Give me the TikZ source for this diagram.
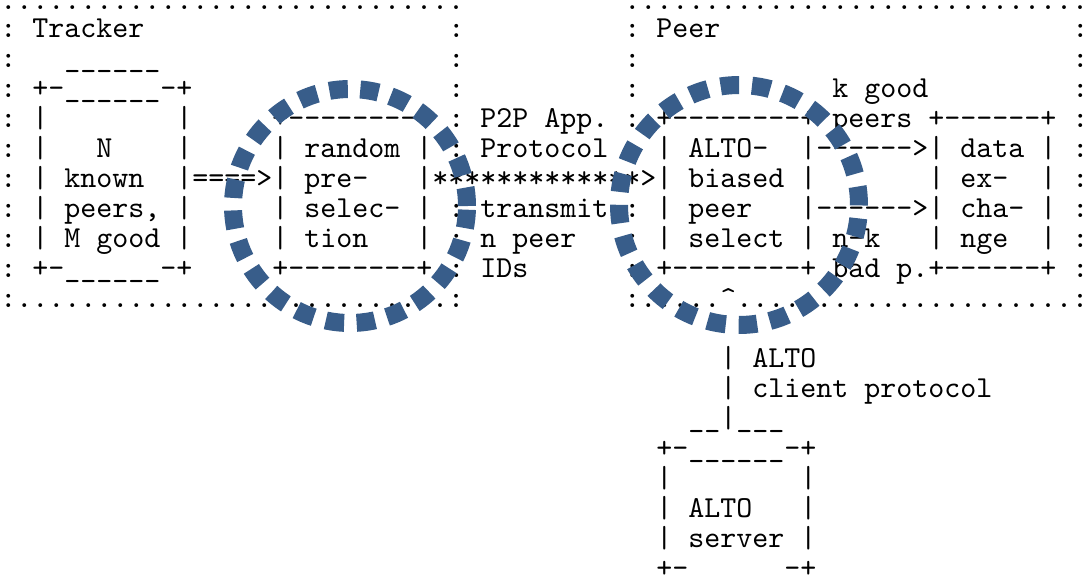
\documentclass[tikz,border=0pt]{standalone}
\usepackage{fontspec}
\setmonofont{lmmono10-regular.otf}
\definecolor{ringblue}{HTML}{385D8A}
\tikzset{asc/.style={anchor=base west,inner sep=0pt,font=\ttfamily\fontsize{17.34}{20}\selectfont},
ring/.style={draw=ringblue,line width=0.36cm}}

\begin{document}
\begin{tikzpicture}[x=0.02cm,y=-0.02cm]
\useasboundingbox (0,0) rectangle (1089,583);

% frame tops
\foreach \c/\t[count=\x] in {0/{.............................},39/{.............................}}
{\node[asc,text height=2pt](a\x)at(\c*16,9){\t};}
\foreach \c/\t[count=\x] in {0/:,2/Tracker,28/:,39/:,41/Peer,67/:}
{\node[asc](b\x)at(\c*16,37){\t};}
\foreach \c/\t[count=\x] in {0/:,4/{\_\_\_\_\_\_},28/:,39/:,67/:}
{\node[asc](c\x)at(\c*16,67){\t};}
\foreach \c/\t[count=\x] in {0/:,2/{+-\_\_\_\_\_\_-+},28/:,39/:,52/{k good},67/:}
{\node[asc](d\x)at(\c*16,97){\t};}

% boxes
\foreach \c/\t[count=\x] in {0/:,2/|,11/|,17/{+--------+},28/:,30/{P2P App.},39/:,41/{+--------+},52/peers,58/{+------+},67/:}
{\node[asc](e\x)at(\c*16,127){\t};}
\foreach \c/\t[count=\x] in {0/:,2/|,6/N,11/|,17/|,19/random,26/|,28/:,30/Protocol,39/:,41/|,43/ALTO-,50/{|------>|},60/data,65/|,67/:}
{\node[asc](f\x)at(\c*16,157){\t};}
\foreach \c/\t[count=\x] in {0/:,2/|,4/known,11/{|====>|},19/pre-,26/{|*************>|},43/biased,50/|,58/|,60/ex-,65/|,67/:}
{\node[asc](g\x)at(\c*16,187){\t};}
\foreach \c/\t[count=\x] in {0/:,2/|,4/{peers,},11/|,17/|,19/selec-,26/|,28/:,30/transmit,39/:,41/|,43/peer,50/{|------>|},60/cha-,65/|,67/:}
{\node[asc](h\x)at(\c*16,217){\t};}
\foreach \c/\t[count=\x] in {0/:,2/|,4/{M good},11/|,17/|,19/tion,26/|,28/:,30/{n peer},39/:,41/|,43/select,50/|,52/n-k,58/|,60/nge,65/|,67/:}
{\node[asc](i\x)at(\c*16,247){\t};}
\foreach \c/\t[count=\x] in {0/:,2/{+-\_\_\_\_\_\_-+},17/{+--------+},28/:,30/IDs,39/:,41/{+--------+},52/{bad p.+------+},67/:}
{\node[asc](j\x)at(\c*16,277){\t};}
\foreach \c/\t[count=\x] in {0/{:...........................:},39/{:.....\textasciicircum.....................:}}
{\node[asc](k\x)at(\c*16,307){\t};}

% ALTO server
\foreach \c/\t[count=\x] in {45/|,47/ALTO}
{\node[asc](l\x)at(\c*16,367){\t};}
\foreach \c/\t[count=\x] in {45/|,47/{client protocol}}
{\node[asc](m\x)at(\c*16,397){\t};}
\node[asc](n1)at(43*16,427){\_\_|\_\_\_};
\node[asc](o1)at(41*16,457){+-\_\_\_\_\_\_-+};
\foreach \c/\t[count=\x] in {41/|,50/|}
{\node[asc](p\x)at(\c*16,487){\t};}
\foreach \c/\t[count=\x] in {41/|,43/ALTO,50/|}
{\node[asc](q\x)at(\c*16,517){\t};}
\foreach \c/\t[count=\x] in {41/|,43/server,50/|}
{\node[asc](r\x)at(\c*16,547){\t};}
\foreach \c/\t[count=\x] in {41/+-,49/-+}
{\node[asc](s\x)at(\c*16,577){\t};}

% dotted rings
\draw[ring,dash pattern=on .37cm off .25cm](350,206)circle[radius=2.34cm];
\draw[ring,dash pattern=on .37cm off .258cm](739,205)circle[radius=2.4cm];
\end{tikzpicture}
\end{document}
